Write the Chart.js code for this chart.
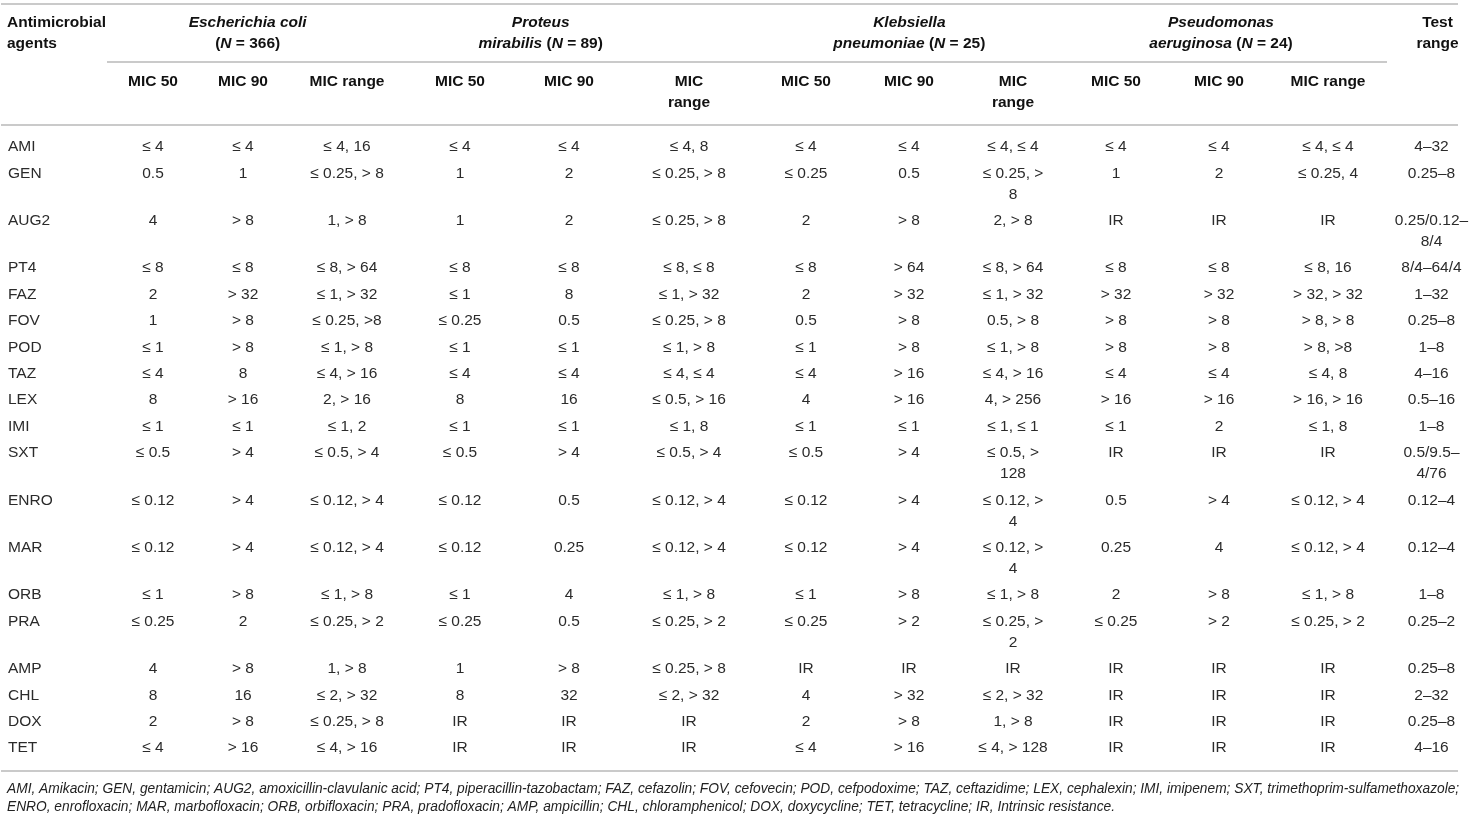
<!DOCTYPE html>
<html>
<head>
<meta charset="utf-8">
<script src="https://cdn.jsdelivr.net/npm/chart.js@4.4.1/dist/chart.umd.min.js"></script>
<style>
  html, body { margin: 0; padding: 0; background: #fff; }
  #wrap { width: 1480px; height: 820px; position: relative; }
</style>
</head>
<body>
<div id="wrap"><canvas id="micTable"></canvas></div>
<script>
// Baris (agen antimikroba)
const agents = ['AMI', 'GEN', 'AUG2', 'PT4', 'FAZ', 'FOV', 'POD', 'TAZ', 'LEX', 'IMI', 'SXT', 'ENRO', 'MAR', 'ORB', 'PRA', 'AMP', 'CHL', 'DOX', 'TET'];

// Kelompok bakteri
const groupNames = ['Escherichia coli', 'Proteus\nmirabilis', 'Klebsiella\npneumoniae', 'Pseudomonas\naeruginosa'];
const groupN = [366, 89, 25, 24];
const subHeaders = ['MIC 50', 'MIC 90', 'MIC range'];

// Nilai MIC per kolom
const ecoliMic50 = ['≤ 4', '0.5', '4', '≤ 8', '2', '1', '≤ 1', '≤ 4', '8', '≤ 1', '≤ 0.5', '≤ 0.12', '≤ 0.12', '≤ 1', '≤ 0.25', '4', '8', '2', '≤ 4'];
const ecoliMic90 = ['≤ 4', '1', '> 8', '≤ 8', '> 32', '> 8', '> 8', '8', '> 16', '≤ 1', '> 4', '> 4', '> 4', '> 8', '2', '> 8', '16', '> 8', '> 16'];
const ecoliRange = ['≤ 4, 16', '≤ 0.25, > 8', '1, > 8', '≤ 8, > 64', '≤ 1, > 32', '≤ 0.25, >8', '≤ 1, > 8', '≤ 4, > 16', '2, > 16', '≤ 1, 2', '≤ 0.5, > 4', '≤ 0.12, > 4', '≤ 0.12, > 4', '≤ 1, > 8', '≤ 0.25, > 2', '1, > 8', '≤ 2, > 32', '≤ 0.25, > 8', '≤ 4, > 16'];

const proteusMic50 = ['≤ 4', '1', '1', '≤ 8', '≤ 1', '≤ 0.25', '≤ 1', '≤ 4', '8', '≤ 1', '≤ 0.5', '≤ 0.12', '≤ 0.12', '≤ 1', '≤ 0.25', '1', '8', 'IR', 'IR'];
const proteusMic90 = ['≤ 4', '2', '2', '≤ 8', '8', '0.5', '≤ 1', '≤ 4', '16', '≤ 1', '> 4', '0.5', '0.25', '4', '0.5', '> 8', '32', 'IR', 'IR'];
const proteusRange = ['≤ 4, 8', '≤ 0.25, > 8', '≤ 0.25, > 8', '≤ 8, ≤ 8', '≤ 1, > 32', '≤ 0.25, > 8', '≤ 1, > 8', '≤ 4, ≤ 4', '≤ 0.5, > 16', '≤ 1, 8', '≤ 0.5, > 4', '≤ 0.12, > 4', '≤ 0.12, > 4', '≤ 1, > 8', '≤ 0.25, > 2', '≤ 0.25, > 8', '≤ 2, > 32', 'IR', 'IR'];

const klebMic50 = ['≤ 4', '≤ 0.25', '2', '≤ 8', '2', '0.5', '≤ 1', '≤ 4', '4', '≤ 1', '≤ 0.5', '≤ 0.12', '≤ 0.12', '≤ 1', '≤ 0.25', 'IR', '4', '2', '≤ 4'];
const klebMic90 = ['≤ 4', '0.5', '> 8', '> 64', '> 32', '> 8', '> 8', '> 16', '> 16', '≤ 1', '> 4', '> 4', '> 4', '> 8', '> 2', 'IR', '> 32', '> 8', '> 16'];
const klebRange = ['≤ 4, ≤ 4', '≤ 0.25, >\n8', '2, > 8', '≤ 8, > 64', '≤ 1, > 32', '0.5, > 8', '≤ 1, > 8', '≤ 4, > 16', '4, > 256', '≤ 1, ≤ 1', '≤ 0.5, >\n128', '≤ 0.12, >\n4', '≤ 0.12, >\n4', '≤ 1, > 8', '≤ 0.25, >\n2', 'IR', '≤ 2, > 32', '1, > 8', '≤ 4, > 128'];

const pseudoMic50 = ['≤ 4', '1', 'IR', '≤ 8', '> 32', '> 8', '> 8', '≤ 4', '> 16', '≤ 1', 'IR', '0.5', '0.25', '2', '≤ 0.25', 'IR', 'IR', 'IR', 'IR'];
const pseudoMic90 = ['≤ 4', '2', 'IR', '≤ 8', '> 32', '> 8', '> 8', '≤ 4', '> 16', '2', 'IR', '> 4', '4', '> 8', '> 2', 'IR', 'IR', 'IR', 'IR'];
const pseudoRange = ['≤ 4, ≤ 4', '≤ 0.25, 4', 'IR', '≤ 8, 16', '> 32, > 32', '> 8, > 8', '> 8, >8', '≤ 4, 8', '> 16, > 16', '≤ 1, 8', 'IR', '≤ 0.12, > 4', '≤ 0.12, > 4', '≤ 1, > 8', '≤ 0.25, > 2', 'IR', 'IR', 'IR', 'IR'];

const testRange = ['4–32', '0.25–8', '0.25/0.12–\n8/4', '8/4–64/4', '1–32', '0.25–8', '1–8', '4–16', '0.5–16', '1–8', '0.5/9.5–\n4/76', '0.12–4', '0.12–4', '1–8', '0.25–2', '0.25–8', '2–32', '0.25–8', '4–16'];

const footnotes = [
  'AMI, Amikacin; GEN, gentamicin; AUG2, amoxicillin-clavulanic acid; PT4, piperacillin-tazobactam; FAZ, cefazolin; FOV, cefovecin; POD, cefpodoxime; TAZ, ceftazidime; LEX, cephalexin; IMI, imipenem; SXT, trimethoprim-sulfamethoxazole;',
  'ENRO, enrofloxacin; MAR, marbofloxacin; ORB, orbifloxacin; PRA, pradofloxacin; AMP, ampicillin; CHL, chloramphenicol; DOX, doxycycline; TET, tetracycline; IR, Intrinsic resistance.'
];

const columns = [agents,
  ecoliMic50, ecoliMic90, ecoliRange,
  proteusMic50, proteusMic90, proteusRange,
  klebMic50, klebMic90, klebRange,
  pseudoMic50, pseudoMic90, pseudoRange,
  testRange];

// Tata letak (lebar kolom, jarak baris)
const colWidths = [107, 92, 88, 120, 106, 112, 128, 106, 100, 108, 98, 108, 110, 97];
const wrappedSubHeader = [false, false, false, false, false, true, false, false, true, false, false, false];
const tableRight = 1458;
const lineTop = 4, lineGroup = 62, lineHead = 125, lineBottom = 771;
const headY = 23, subY = 82, rowFirst = 147, rowStep = 26.4, lineStep = 21;
const footY = 789, footStep = 18;
const FONT = '"Liberation Sans", Arial, sans-serif';

const colStart = [];
let acc = 0;
colWidths.forEach(w => { colStart.push(acc); acc += w; });
const colCenter = colWidths.map((w, i) => colStart[i] + w / 2);

const rowLines = agents.map((_, r) => Math.max(...columns.map(c => c[r].split('\n').length)));
const rowY = [];
let yy = rowFirst;
rowLines.forEach(n => { rowY.push(yy); yy += rowStep + (n - 1) * lineStep; });

const datasets = columns.map((col, ci) => ({
  label: ci === 0 ? 'Antimicrobial agents' : 'col' + ci,
  data: col.map((v, r) => ({ x: ci === 0 ? colStart[0] + 8 : colCenter[ci], y: rowY[r], text: v })),
  pointRadius: 0,
  showLine: false
}));

function drawRuns(ctx, runs, cx, y, size) {
  let total = 0;
  runs.forEach(r => { ctx.font = (r.it ? 'italic ' : '') + 'bold ' + size + 'px ' + FONT; r.w = ctx.measureText(r.t).width; total += r.w; });
  let x = cx - total / 2;
  ctx.textAlign = 'left';
  runs.forEach(r => { ctx.font = (r.it ? 'italic ' : '') + 'bold ' + size + 'px ' + FONT; ctx.fillText(r.t, x, y); x += r.w; });
}

const tablePlugin = {
  id: 'tablePlugin',
  afterDatasetsDraw(chart) {
    const ctx = chart.ctx;
    const xs = chart.scales.x, ys = chart.scales.y;
    const px = v => xs.getPixelForValue(v), py = v => ys.getPixelForValue(v);
    ctx.save();

    // garis tabel
    ctx.strokeStyle = '#b9b9b9';
    ctx.lineWidth = 1.5;
    const hline = (y, x0, x1) => { ctx.beginPath(); ctx.moveTo(px(x0), py(y)); ctx.lineTo(px(x1), py(y)); ctx.stroke(); };
    hline(lineTop, 1, tableRight);
    hline(lineGroup, colStart[1], colStart[12] + colWidths[12] + 4);
    hline(lineHead, 1, tableRight);
    hline(lineBottom, 1, tableRight);

    ctx.textBaseline = 'middle';
    ctx.fillStyle = '#111';

    // judul kolom pertama
    ctx.font = 'bold 15.5px ' + FONT;
    ctx.textAlign = 'left';
    ctx.fillText('Antimicrobial', px(colStart[0] + 7), py(headY));
    ctx.fillText('agents', px(colStart[0] + 7), py(headY + lineStep));

    // judul kelompok
    groupNames.forEach((name, g) => {
      const c = colCenter.slice(1 + g * 3, 4 + g * 3);
      let cx = (c[0] + c[1] + c[2]) / 3;
      if (g === 1) cx -= 32;
      const nRuns = [{ t: '(', it: false }, { t: 'N', it: true }, { t: ' = ' + groupN[g] + ')', it: false }];
      const parts = name.split('\n');
      if (parts.length === 1) {
        drawRuns(ctx, [{ t: parts[0], it: true }], px(cx), py(headY), 15.5);
        drawRuns(ctx, nRuns, px(cx), py(headY + lineStep), 15.5);
      } else {
        drawRuns(ctx, [{ t: parts[0], it: true }], px(cx), py(headY), 15.5);
        drawRuns(ctx, [{ t: parts[1] + ' ', it: true }].concat(nRuns), px(cx), py(headY + lineStep), 15.5);
      }
    });
    drawRuns(ctx, [{ t: 'Test', it: false }], px(colCenter[13] + 6), py(headY), 15.5);
    drawRuns(ctx, [{ t: 'range', it: false }], px(colCenter[13] + 6), py(headY + lineStep), 15.5);

    // sub judul
    ctx.font = 'bold 15.5px ' + FONT;
    ctx.textAlign = 'center';
    for (let k = 0; k < 12; k++) {
      const cx = px(colCenter[k + 1]);
      const label = subHeaders[k % 3];
      if (wrappedSubHeader[k]) {
        ctx.fillText('MIC', cx, py(subY));
        ctx.fillText('range', cx, py(subY + lineStep));
      } else {
        ctx.fillText(label, cx, py(subY));
      }
    }

    // isi sel dari titik dataset
    ctx.fillStyle = '#2b2b2b';
    ctx.font = '15.5px ' + FONT;
    chart.data.datasets.forEach((ds, i) => {
      const meta = chart.getDatasetMeta(i);
      ctx.textAlign = i === 0 ? 'left' : 'center';
      meta.data.forEach((pt, j) => {
        ds.data[j].text.split('\n').forEach((line, l) => {
          ctx.fillText(line, pt.x, pt.y + l * (py(lineStep) - py(0)));
        });
      });
    });

    // catatan kaki
    ctx.font = 'italic 13.75px ' + FONT;
    ctx.textAlign = 'left';
    ctx.fillStyle = '#222';
    footnotes.forEach((t, i) => ctx.fillText(t, px(7), py(footY + i * footStep)));
    ctx.restore();
  }
};

const ctx = document.getElementById('micTable').getContext('2d');
const micTable = new Chart(ctx, {
  type: 'scatter',
  data: { datasets: datasets },
  options: {
    responsive: true,
    maintainAspectRatio: false,
    animation: false,
    layout: { padding: 0 },
    plugins: { legend: { display: false }, tooltip: { enabled: false } },
    scales: {
      x: { type: 'linear', min: 0, max: acc, display: false },
      y: { type: 'linear', min: 0, max: 820, reverse: true, display: false }
    }
  },
  plugins: [tablePlugin]
});
</script>
</body>
</html>
